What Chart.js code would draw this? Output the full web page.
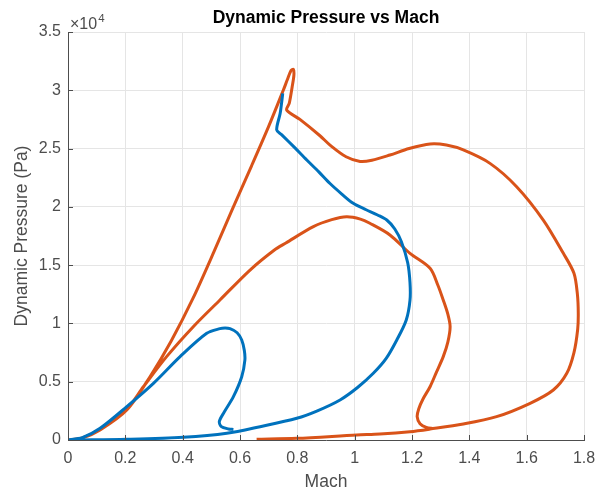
<!DOCTYPE html>
<html>
<head>
<meta charset="utf-8">
<script src="https://cdn.jsdelivr.net/npm/chart.js@4.4.1/dist/chart.umd.min.js"></script>
<style>
  body { margin: 0; background: #fff; }
</style>
</head>
<body>
<canvas id="myChart" width="607" height="490"></canvas>
<script>
// blue trajectory (Mach, dynamic pressure in Pa)
const blueMach = [0.749, 0.745, 0.740, 0.728, 0.745, 0.79, 0.833, 0.875, 0.914, 0.955, 0.995, 1.04, 1.08, 1.112, 1.14, 1.163, 1.185, 1.193, 1.193, 1.18, 1.147, 1.11, 1.065, 1.01, 0.949, 0.87, 0.798, 0.67, 0.554, 0.402, 0.205, 0.05, 0,
  0.05, 0.112, 0.205, 0.298, 0.391, 0.484, 0.53, 0.548, 0.565, 0.59, 0.606, 0.615, 0.617, 0.606, 0.577, 0.545, 0.528, 0.535, 0.56, 0.577];
const bluePressure = [29740, 28900, 28000, 26600, 26200, 25100, 24020, 23000, 22000, 21100, 20300, 19750, 19300, 18870, 18100, 17000, 15200, 13500, 12000, 10300, 8580, 7000, 5720, 4500, 3430, 2500, 1860, 1140, 570, 230, 60, 5, 0,
  200, 1000, 2860, 4860, 7150, 9150, 9550, 9600, 9550, 9200, 8580, 7700, 6860, 5430, 3720, 2400, 1600, 1150, 950, 900];

// orange trajectory
const orangeMach = [0.658, 0.798, 1.007, 1.088, 1.193, 1.263, 1.379, 1.495, 1.612, 1.693, 1.740, 1.765, 1.778, 1.780, 1.777, 1.765, 1.728, 1.658, 1.565, 1.472, 1.379, 1.32, 1.263, 1.19, 1.123, 1.06, 1.019, 0.97, 0.914, 0.879, 0.809, 0.763,
  0.772, 0.782, 0.788, 0.786, 0.778, 0.765, 0.751, 0.70, 0.64, 0.575, 0.51, 0.435, 0.36, 0.286, 0.205, 0.112, 0.05, 0,
  0.05, 0.112, 0.205, 0.263, 0.344, 0.437, 0.530, 0.635, 0.72, 0.76, 0.856, 0.92, 0.972, 1.02, 1.053, 1.123, 1.193, 1.263,
  1.29, 1.309, 1.325, 1.333, 1.325, 1.309, 1.285, 1.263, 1.238, 1.224, 1.218, 1.228, 1.25, 1.275];
const orangePressure = [60, 145, 430, 510, 715, 940, 1370, 2000, 3150, 4290, 5720, 7500, 9500, 10870, 12500, 14300, 16010, 18870, 21730, 23730, 24880, 25300, 25390, 25000, 24450, 24000, 23900, 24300, 25300, 26100, 27500, 28300,
  28900, 30300, 31300, 31800, 31700, 30900, 30000, 26900, 23500, 19900, 16200, 12100, 8500, 5430, 2570, 860, 170, 0,
  170, 900, 2650, 4570, 7150, 9720, 12010, 14580, 16300, 16900, 18300, 18900, 19150, 18950, 18590, 17590, 16010, 14730,
  13300, 12010, 10800, 9720, 8400, 7150, 5800, 4570, 3500, 2700, 2000, 1400, 1080, 980];

const xTicks = [0, 0.2, 0.4, 0.6, 0.8, 1, 1.2, 1.4, 1.6, 1.8];
const yTicks = [0, 5000, 10000, 15000, 20000, 25000, 30000, 35000];

const chartTitle = 'Dynamic Pressure vs Mach';

function toPoints(xs, ys) {
  return xs.map((x, i) => ({ x: x, y: ys[i] }));
}

const fontFamily = '"Liberation Sans", Arial, sans-serif';
const textColor = '#4d4d4d';
const axisColor = '#4d4d4d';
const gridColor = '#e5e5e5';

// MATLAB style: title over the axes, inward ticks, exponent label
const matlabAxes = {
  id: 'matlabAxes',
  afterDraw(chart) {
    const c = chart.ctx;
    const xs = chart.scales.x, ys = chart.scales.y;
    const area = chart.chartArea;
    c.save();
    c.strokeStyle = axisColor;
    c.lineWidth = 1;
    c.beginPath();
    xTicks.forEach(v => {
      const px = Math.round(xs.getPixelForValue(v)) + 0.5;
      c.moveTo(px, area.bottom);
      c.lineTo(px, area.bottom - 5);
    });
    yTicks.forEach(v => {
      const py = Math.round(ys.getPixelForValue(v)) + 0.5;
      c.moveTo(area.left, py);
      c.lineTo(area.left + 5, py);
    });
    c.stroke();

    c.fillStyle = textColor;
    c.textBaseline = 'alphabetic';
    c.textAlign = 'left';
    c.font = '16px ' + fontFamily;
    c.fillText('\u00d710', area.left + 2, area.top - 3);
    const w = c.measureText('\u00d710').width;
    c.font = '11.5px ' + fontFamily;
    c.fillText('4', area.left + 2 + w + 1, area.top - 10);

    c.fillStyle = '#000';
    c.font = 'bold 17.5px ' + fontFamily;
    c.textAlign = 'center';
    c.textBaseline = 'middle';
    c.fillText(chartTitle, (area.left + area.right) / 2, 18);
    c.restore();
  }
};

const ctx = document.getElementById('myChart').getContext('2d');

new Chart(ctx, {
  type: 'scatter',
  data: {
    datasets: [{
      label: 'Blue',
      data: toPoints(blueMach, bluePressure),
      showLine: true,
      borderColor: '#0072BD',
      borderWidth: 3,
      pointRadius: 0,
      tension: 0.3,
      fill: false
    }, {
      label: 'Orange',
      data: toPoints(orangeMach, orangePressure),
      showLine: true,
      borderColor: '#D95319',
      borderWidth: 3,
      pointRadius: 0,
      tension: 0.3,
      fill: false
    }]
  },
  options: {
    responsive: false,
    animation: false,
    devicePixelRatio: 1,
    layout: { padding: { left: 0, right: 23, top: 32, bottom: 0 } },
    plugins: {
      legend: { display: false },
      tooltip: { enabled: false },
      title: { display: false }
    },
    scales: {
      x: {
        type: 'linear',
        min: 0,
        max: 1.8,
        afterFit(scale) { scale.height = 50; },
        afterBuildTicks(scale) { scale.ticks = xTicks.map(v => ({ value: v })); },
        ticks: {
          color: textColor,
          padding: 9,
          font: { family: fontFamily, size: 16 },
          callback: v => String(parseFloat(v.toFixed(1)))
        },
        grid: { color: gridColor, drawTicks: false },
        border: { display: true, color: axisColor },
        title: {
          display: true,
          text: 'Mach',
          color: textColor,
          font: { family: fontFamily, size: 17.5 },
          padding: { top: 0, bottom: -2.5 }
        }
      },
      y: {
        type: 'linear',
        min: 0,
        max: 35000,
        afterFit(scale) { scale.width = 68; },
        afterBuildTicks(scale) { scale.ticks = yTicks.map(v => ({ value: v })); },
        ticks: {
          color: textColor,
          padding: 7,
          font: { family: fontFamily, size: 16 },
          callback: v => String(parseFloat((v / 10000).toFixed(1)))
        },
        grid: { color: gridColor, drawTicks: false },
        border: { display: true, color: axisColor },
        title: {
          display: true,
          text: 'Dynamic Pressure (Pa)',
          color: textColor,
          font: { family: fontFamily, size: 17.5 },
          padding: { top: 12, bottom: 0 }
        }
      }
    }
  },
  plugins: [matlabAxes]
});
</script>
</body>
</html>
